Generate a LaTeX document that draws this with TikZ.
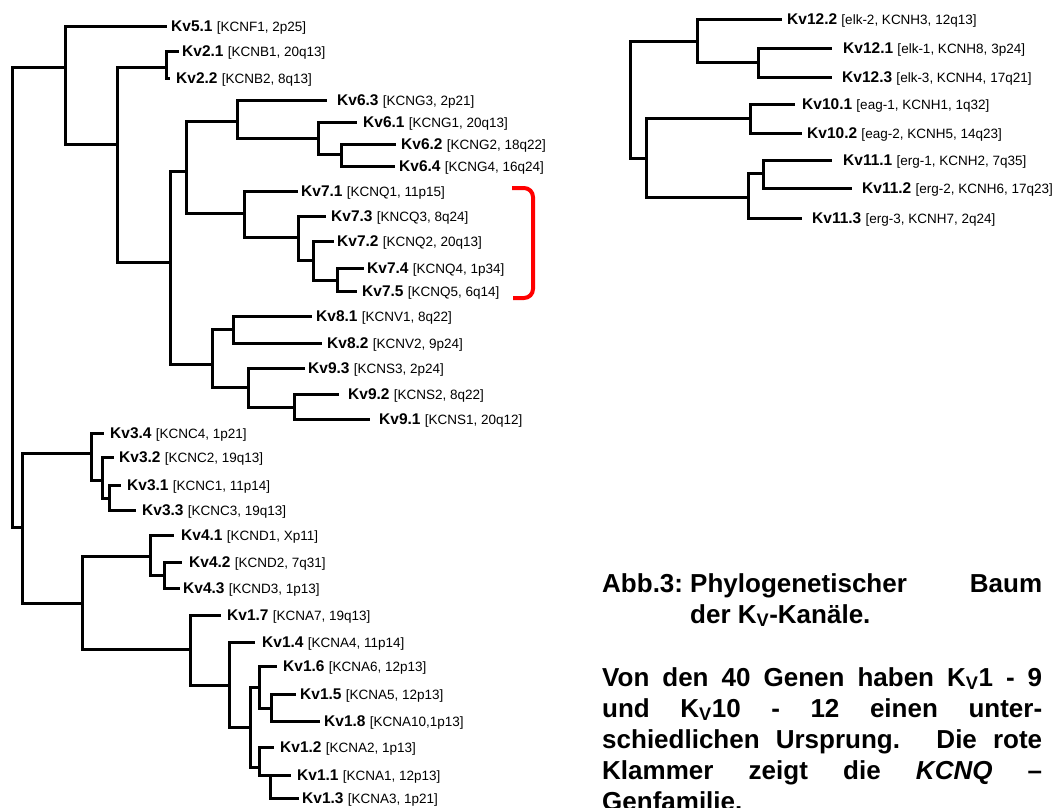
\documentclass[tikz,border=0pt]{standalone}
\usepackage{fontspec}
\setmainfont{Liberation Sans}
\newcommand\kvl[2]{\textbf{#1} {\fontsize{13.5}{16}\selectfont[#2]}}
\begin{document}
\begin{tikzpicture}[x=1pt,y=-1pt,
  br/.style={line width=3pt, line cap=rect, line join=miter},
  lbl/.style={anchor=base west, inner sep=0pt, yshift=-5.5pt, font=\fontsize{15.5}{18}\selectfont},
  capt/.style={anchor=base west, inner sep=0pt, font=\fontsize{26}{31}\selectfont\bfseries},
  brack/.style={draw=red, line width=4pt, rounded corners=9pt}]
\useasboundingbox (0,0) rectangle (1063,807);
% ---------- left tree: internal nodes ----------
\coordinate (root) at (12,67);
\coordinate (nA) at (65,67);
\coordinate (nB) at (117,144);
\coordinate (nKv2) at (166,67);
\coordinate (nC) at (170,262);
\coordinate (nD) at (186,171);
\coordinate (nE) at (237,121);
\coordinate (nF) at (318,138);
\coordinate (nG) at (341,154);
\coordinate (nH) at (244,213);
\coordinate (nI) at (298,237);
\coordinate (nJ) at (313,260);
\coordinate (nK) at (337,280);
\coordinate (nL) at (212,364);
\coordinate (nM) at (233,329);
\coordinate (nN) at (248,387);
\coordinate (nO) at (294,407);
\coordinate (nS) at (22,527);
\coordinate (nP) at (91,453);
\coordinate (nQ) at (102,480);
\coordinate (nR) at (109,498);
\coordinate (nT) at (82,603);
\coordinate (nU) at (150,556);
\coordinate (nV) at (164,575);
\coordinate (nW) at (190,649);
\coordinate (nX) at (229,685);
\coordinate (nY) at (250,727);
\coordinate (nZ) at (259,687);
\coordinate (nAA) at (271,708);
\coordinate (nAB) at (259,767);
\coordinate (nAC) at (270,775);
% ---------- left tree: leaves ----------
\coordinate (e51) at (165,26);  \node[lbl] (l51) at (171,26) {\kvl{Kv5.1}{KCNF1, 2p25}};
\coordinate (e21) at (177,51);  \node[lbl] (l21) at (182,51) {\kvl{Kv2.1}{KCNB1, 20q13}};
\coordinate (e22) at (168,78);  \node[lbl] (l22) at (176,78) {\kvl{Kv2.2}{KCNB2, 8q13}};
\coordinate (e63) at (325,100); \node[lbl] (l63) at (337,100) {\kvl{Kv6.3}{KCNG3, 2p21}};
\coordinate (e61) at (355,122); \node[lbl] (l61) at (363,122) {\kvl{Kv6.1}{KCNG1, 20q13}};
\coordinate (e62) at (394,144); \node[lbl] (l62) at (401,144) {\kvl{Kv6.2}{KCNG2, 18q22}};
\coordinate (e64) at (393,166); \node[lbl] (l64) at (399,166) {\kvl{Kv6.4}{KCNG4, 16q24}};
\coordinate (e71) at (296,191); \node[lbl] (l71) at (301,191) {\kvl{Kv7.1}{KCNQ1, 11p15}};
\coordinate (e73) at (324,216); \node[lbl] (l73) at (331,216) {\kvl{Kv7.3}{KNCQ3, 8q24}};
\coordinate (e72) at (332,241); \node[lbl] (l72) at (337,241) {\kvl{Kv7.2}{KCNQ2, 20q13}};
\coordinate (e74) at (362,268); \node[lbl] (l74) at (367,268) {\kvl{Kv7.4}{KCNQ4, 1p34}};
\coordinate (e75) at (355,291); \node[lbl] (l75) at (362,291) {\kvl{Kv7.5}{KCNQ5, 6q14}};
\coordinate (e81) at (310,316); \node[lbl] (l81) at (316,316) {\kvl{Kv8.1}{KCNV1, 8q22}};
\coordinate (e82) at (320,343); \node[lbl] (l82) at (327,343) {\kvl{Kv8.2}{KCNV2, 9p24}};
\coordinate (e93) at (303,368); \node[lbl] (l93) at (308,368) {\kvl{Kv9.3}{KCNS3, 2p24}};
\coordinate (e92) at (337,394); \node[lbl] (l92) at (348,394) {\kvl{Kv9.2}{KCNS2, 8q22}};
\coordinate (e91) at (368,419); \node[lbl] (l91) at (379,419) {\kvl{Kv9.1}{KCNS1, 20q12}};
\coordinate (e34) at (102,433); \node[lbl] (l34) at (110,433) {\kvl{Kv3.4}{KCNC4, 1p21}};
\coordinate (e32) at (112,457); \node[lbl] (l32) at (119,457) {\kvl{Kv3.2}{KCNC2, 19q13}};
\coordinate (e31) at (119,485); \node[lbl] (l31) at (127,485) {\kvl{Kv3.1}{KCNC1, 11p14}};
\coordinate (e33) at (134,510); \node[lbl] (l33) at (142,510) {\kvl{Kv3.3}{KCNC3, 19q13}};
\coordinate (e41) at (172,535); \node[lbl] (l41) at (181,535) {\kvl{Kv4.1}{KCND1, Xp11}};
\coordinate (e42) at (180,562); \node[lbl] (l42) at (189,562) {\kvl{Kv4.2}{KCND2, 7q31}};
\coordinate (e43) at (178,588); \node[lbl] (l43) at (183,588) {\kvl{Kv4.3}{KCND3, 1p13}};
\coordinate (e17) at (219,615); \node[lbl] (l17) at (227,615) {\kvl{Kv1.7}{KCNA7, 19q13}};
\coordinate (e14) at (253,642); \node[lbl] (l14) at (262,642) {\kvl{Kv1.4}{KCNA4, 11p14}};
\coordinate (e16) at (275,666); \node[lbl] (l16) at (283,666) {\kvl{Kv1.6}{KCNA6, 12p13}};
\coordinate (e15) at (294,694); \node[lbl] (l15) at (300,694) {\kvl{Kv1.5}{KCNA5, 12p13}};
\coordinate (e18) at (318,721); \node[lbl] (l18) at (324,721) {\kvl{Kv1.8}{KCNA10,1p13}};
\coordinate (e12) at (272,747); \node[lbl] (l12) at (280,747) {\kvl{Kv1.2}{KCNA2, 1p13}};
\coordinate (e11) at (289,775); \node[lbl] (l11) at (297,775) {\kvl{Kv1.1}{KCNA1, 12p13}};
\coordinate (e13) at (297,798); \node[lbl] (l13) at (302,798) {\kvl{Kv1.3}{KCNA3, 1p21}};
% ---------- left tree: branches ----------
\foreach \p/\c in {root/nA, root/nS, nA/e51, nA/nB, nB/nKv2, nB/nC, nKv2/e21, nKv2/e22,
  nC/nD, nC/nL, nD/nE, nD/nH, nE/e63, nE/nF, nF/e61, nF/nG, nG/e62, nG/e64,
  nH/e71, nH/nI, nI/e73, nI/nJ, nJ/e72, nJ/nK, nK/e74, nK/e75,
  nL/nM, nL/nN, nM/e81, nM/e82, nN/e93, nN/nO, nO/e92, nO/e91,
  nS/nP, nS/nT, nP/e34, nP/nQ, nQ/e32, nQ/nR, nR/e31, nR/e33,
  nT/nU, nT/nW, nU/e41, nU/nV, nV/e42, nV/e43,
  nW/e17, nW/nX, nX/e14, nX/nY, nY/nZ, nY/nAB, nZ/e16, nZ/nAA, nAA/e15, nAA/e18,
  nAB/e12, nAB/nAC, nAC/e11, nAC/e13}
  \draw[br] (\p) |- (\c);
% ---------- red bracket ----------
\coordinate (bk1) at (512,188);
\coordinate (bk2) at (533,188);
\coordinate (bk3) at (533,298);
\coordinate (bk4) at (513,298);
\draw[brack] (bk1) -- (bk2) -- (bk3) -- (bk4);
% ---------- right tree ----------
\coordinate (r0) at (630,41);
\coordinate (rA) at (697,41);
\coordinate (rB) at (758,62);
\coordinate (rC) at (646,158);
\coordinate (rD) at (750,118);
\coordinate (rE) at (748,197);
\coordinate (rF) at (763,173);
\coordinate (f122) at (780,19);  \node[lbl] (m122) at (787,19) {\kvl{Kv12.2}{elk-2, KCNH3, 12q13}};
\coordinate (f121) at (830,48);  \node[lbl] (m121) at (843,48) {\kvl{Kv12.1}{elk-1, KCNH8, 3p24}};
\coordinate (f123) at (830,77);  \node[lbl] (m123) at (842,77) {\kvl{Kv12.3}{elk-3, KCNH4, 17q21}};
\coordinate (f101) at (793,104); \node[lbl] (m101) at (802,104) {\kvl{Kv10.1}{eag-1, KCNH1, 1q32}};
\coordinate (f102) at (800,133); \node[lbl] (m102) at (807,133) {\kvl{Kv10.2}{eag-2, KCNH5, 14q23}};
\coordinate (f111) at (830,160); \node[lbl] (m111) at (843,160) {\kvl{Kv11.1}{erg-1, KCNH2, 7q35}};
\coordinate (f112) at (850,188); \node[lbl] (m112) at (862,188) {\kvl{Kv11.2}{erg-2, KCNH6, 17q23}};
\coordinate (f113) at (800,218); \node[lbl] (m113) at (812,218) {\kvl{Kv11.3}{erg-3, KCNH7, 2q24}};
\foreach \p/\c in {r0/rA, r0/rC, rA/f122, rA/rB, rB/f121, rB/f123,
  rC/rD, rC/rE, rD/f101, rD/f102, rE/rF, rE/f113, rF/f111, rF/f112}
  \draw[br] (\p) |- (\c);
% ---------- caption ----------
\node[capt] (c1a) at (602,592) {Abb.3:};
\node[capt] (c1b) at (690,592) {\makebox[352pt][s]{Phylogenetischer Baum}};
\node[capt] (c2) at (690,623) {der K\textsubscript{V}-Kanäle.};
\node[capt] (c3) at (602,686) {\makebox[440pt][s]{Von den 40 Genen haben K\textsubscript{V}1 - 9}};
\node[capt] (c4) at (602,717) {\makebox[440pt][s]{und K\textsubscript{V}10 - 12 einen unter-}};
\node[capt] (c5) at (602,748) {\makebox[440pt][s]{schiedlichen Ursprung. Die rote}};
\node[capt] (c6) at (602,779) {\makebox[440pt][s]{Klammer zeigt die \textit{KCNQ} –}};
\node[capt] (c7) at (602,810) {Genfamilie.};
\end{tikzpicture}
\end{document}
